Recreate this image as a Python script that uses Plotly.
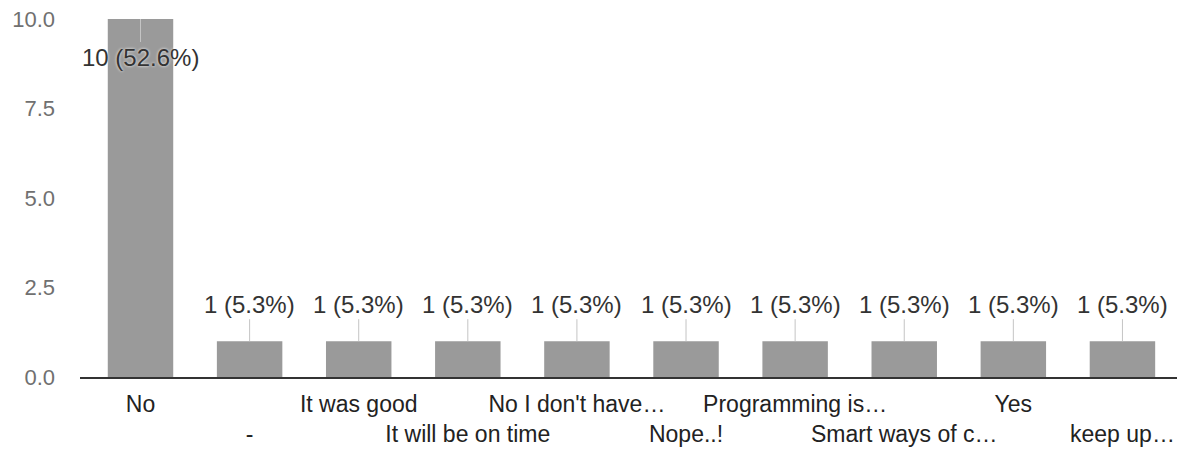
import plotly.graph_objects as go

categories = ["No", "-", "It was good", "It will be on time", "No I don't have\u2026",
              "Nope..!", "Programming is\u2026", "Smart ways of c\u2026", "Yes", "keep up\u2026"]
counts = [10, 1, 1, 1, 1, 1, 1, 1, 1, 1]
y_ticks = [0, 2.5, 5, 7.5, 10]

total = sum(counts)
labels = [f"{c} ({c / total * 100:.1f}%)" for c in counts]
# stagger category labels on two rows
tick_text = [c if i % 2 == 0 else "<br>" + c for i, c in enumerate(categories)]

FONT = "Liberation Sans, Arial, sans-serif"

fig = go.Figure()
fig.add_trace(go.Bar(
    x=categories, y=counts,
    marker=dict(color="#9a9a9a", line=dict(width=0)),
    hoverinfo="skip",
))

ymax = max(counts)
for cat, val, lab in zip(categories, counts, labels):
    inside = val >= ymax * 0.9
    fig.add_annotation(
        x=cat, y=val, text=lab,
        showarrow=True, arrowhead=0, arrowwidth=1, arrowcolor="#c4c4c4",
        ax=0, ay=38 if inside else -37,
        font=dict(family=FONT, size=24, color="#333333",
                  shadow="0px 0px 3px white" if inside else "none"),
    )

fig.update_layout(
    width=1186, height=452,
    margin=dict(l=80, r=9, t=19, b=75, autoexpand=False),
    paper_bgcolor="white", plot_bgcolor="white",
    bargap=0.4,
    showlegend=False,
    font=dict(family=FONT),
)
fig.update_xaxes(
    type="category",
    tickvals=categories, ticktext=tick_text,
    tickangle=0, automargin=False,
    tickfont=dict(family=FONT, size=23, color="#222222"),
    showgrid=False, zeroline=False,
    showline=True, linecolor="#333333", linewidth=2,
    ticks="", ticklabelstandoff=5,
)
fig.update_yaxes(
    range=[0, 10], automargin=False,
    tickvals=y_ticks, tickformat=".1f",
    tickfont=dict(family=FONT, size=22, color="#707070"),
    showgrid=False, zeroline=False, showline=False,
    ticks="", ticklabelstandoff=24,
)

fig.write_html("out.html", config={"displayModeBar": False},
               post_script="document.body.style.margin='0';")
